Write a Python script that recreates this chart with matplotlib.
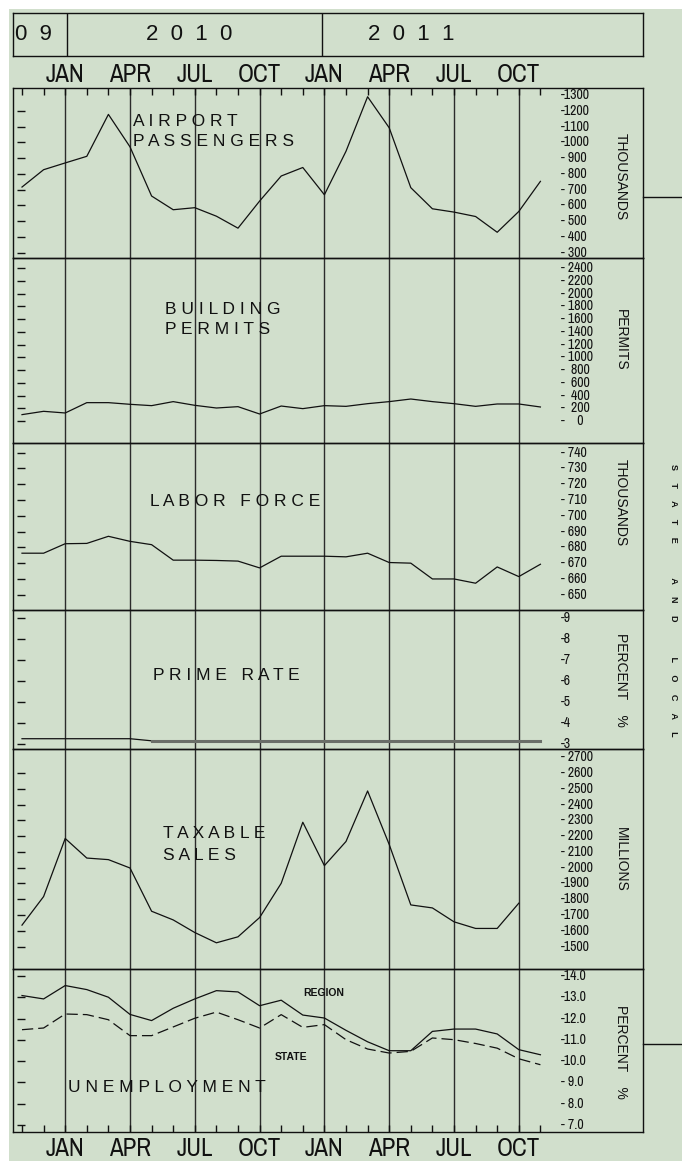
import matplotlib
matplotlib.use("Agg")
import matplotlib.pyplot as plt
import matplotlib.transforms as mtransforms
from matplotlib import font_manager
from matplotlib.patches import Rectangle
from matplotlib.lines import Line2D

W, H = 682, 1161
BG = "#d1dfcc"
INK = "#111111"
GRID = "#2b2b2b"

fonts = font_manager.fontManager.ttflist
names = {f.name for f in fonts}
SANS = "Liberation Sans" if "Liberation Sans" in names else "DejaVu Sans"

# look for a narrow face for the month and scale labels
NARROW, STRETCH = None, "normal"
for f in fonts:
    if f.style != "normal" or f.weight not in (400, "normal", "regular"):
        continue
    if "Narrow" in f.name or "Condensed" in f.name:
        NARROW, STRETCH = f.name, "normal"
        break
    if f.stretch in ("condensed", "semi-condensed", "extra-condensed") and NARROW is None:
        NARROW, STRETCH = f.name, f.stretch
if NARROW is None:
    NARROW = SANS
HAVE_NARROW = NARROW != SANS or STRETCH != "normal"

# month index: 0 = Nov 2009 ... 24 = Nov 2011
months = list(range(25))
quarter_pos = [2, 5, 8, 11, 14, 17, 20, 23]
quarter_names = ["JAN", "APR", "JUL", "OCT", "JAN", "APR", "JUL", "OCT"]
years = ["0  9", "2  0  1  0", "2  0  1  1"]

airport = [716, 826, 869, 911, 1177, 971, 659, 572, 585, 531, 455, 627, 786,
           840, 667, 943, 1289, 1092, 712, 578, 557, 529, 429, 561, 752]
permits = [100, 152, 126, 288, 288, 262, 241, 304, 246, 204, 225, 110, 235,
           194, 241, 230, 272, 304, 345, 304, 272, 230, 267, 267, 220]
labor = [676.3, 676.3, 682.3, 682.5, 687.0, 683.8, 681.7, 671.9, 671.9, 671.7,
         671.3, 667.0, 674.4, 674.4, 674.4, 674.0, 676.3, 670.4, 670.0, 660.0,
         660.0, 657.3, 667.6, 661.5, 669.3]
prime = [3.25, 3.25, 3.25, 3.25, 3.25, 3.25, 3.15, 3.15, 3.15, 3.15, 3.15,
         3.15, 3.15, 3.15, 3.15, 3.15, 3.15, 3.15, 3.15, 3.15, 3.15, 3.15,
         3.15, 3.15, 3.15]
taxable = [1636, 1817, 2185, 2061, 2051, 1998, 1724, 1669, 1589, 1524, 1562,
           1684, 1901, 2288, 2013, 2166, 2486, 2147, 1764, 1745, 1657, 1615,
           1615, 1775]
region = [13.09, 12.93, 13.56, 13.37, 13.01, 12.20, 11.91, 12.49, 12.93, 13.32,
          13.26, 12.61, 12.87, 12.17, 12.03, 11.45, 10.91, 10.49, 10.49, 11.40,
          11.51, 11.51, 11.28, 10.54, 10.30]
state = [11.48, 11.56, 12.22, 12.19, 11.95, 11.20, 11.20, 11.61, 12.02, 12.31,
         11.95, 11.56, 12.19, 11.59, 11.72, 11.01, 10.57, 10.38, 10.46, 11.09,
         11.01, 10.83, 10.61, 10.11, 9.83]

air_ticks = [1300, 1200, 1100, 1000, 900, 800, 700, 600, 500, 400, 300]
air_labels = ["-1300", "-1200", "-1100", "-1000", "- 900", "- 800", "- 700",
              "- 600", "- 500", "- 400", "- 300"]
permit_ticks = [2400, 2200, 2000, 1800, 1600, 1400, 1200, 1000, 800, 600, 400, 200, 0]
permit_labels = ["- 2400", "- 2200", "- 2000", "- 1800", "- 1600", "- 1400",
                 "- 1200", "- 1000", "-  800", "-  600", "-  400", "-  200", "-    0"]
labor_ticks = [740, 730, 720, 710, 700, 690, 680, 670, 660, 650]
labor_labels = ["- 740", "- 730", "- 720", "- 710", "- 700", "- 690", "- 680",
                "- 670", "- 660", "- 650"]
prime_ticks = [9, 8, 7, 6, 5, 4, 3]
prime_labels = ["-9", "-8", "-7", "-6", "-5", "-4", "-3"]
tax_ticks = [2700, 2600, 2500, 2400, 2300, 2200, 2100, 2000, 1900, 1800, 1700, 1600, 1500]
tax_labels = ["- 2700", "- 2600", "- 2500", "- 2400", "- 2300", "- 2200",
              "- 2100", "- 2000", "-1900", "-1800", "-1700", "-1600", "-1500"]
unemp_ticks = [14, 13, 12, 11, 10, 9, 8, 7]
unemp_labels = ["-14.0", "-13.0", "-12.0", "-11.0", "-10.0", "- 9.0", "- 8.0", "- 7.0"]

# layout in pixels
X0, DX = 22.0, 21.6
LEFT, RIGHT = 13, 643
xlim = ((LEFT - X0) / DX, (RIGHT - X0) / DX)
edges = [88, 258, 443, 610, 749, 969, 1132]

scale_font = dict(family=NARROW, fontstretch=STRETCH,
                  fontsize=10 if HAVE_NARROW else 8.5)
month_font = dict(family=NARROW, fontstretch=STRETCH,
                  fontsize=18 if HAVE_NARROW else 14)


def fx(px):
    return px / W


def fy(py):
    return 1 - py / H


fig = plt.figure(figsize=(W / 100, H / 100), dpi=100, facecolor="white")
fig.add_artist(Rectangle((fx(9), 0), 1 - fx(9), fy(9), transform=fig.transFigure,
                         facecolor=BG, edgecolor="none", zorder=-10))

panels = [
    dict(data=[airport], ylim=(265.7, 1344.5), ticks=air_ticks, labels=air_labels,
         marks=air_ticks[1:], unit="THOUSANDS", unit_y=177,
         title=[("A I R P O R T", 133, 121), ("P A S S E N G E R S", 133, 141)]),
    dict(data=[permits], ylim=(-345, 2557), ticks=permit_ticks, labels=permit_labels,
         marks=permit_ticks, unit="PERMITS", unit_y=340,
         title=[("B U I L D I N G", 165, 309), ("P E R M I T S", 165, 330)]),
    dict(data=[labor], ylim=(640.35, 746.05), ticks=labor_ticks, labels=labor_labels,
         marks=labor_ticks, unit="THOUSANDS", unit_y=503,
         title=[("L A B O R   F O R C E", 150, 501)]),
    dict(data=[], ylim=(2.76, 9.38), ticks=prime_ticks, labels=prime_labels,
         marks=prime_ticks, unit="PERCENT    %", unit_y=680,
         title=[("P R I M E   R A T E", 153, 676)]),
    dict(data=[taxable], ylim=(1358, 2752), ticks=tax_ticks, labels=tax_labels,
         marks=tax_ticks[1:], unit="MILLIONS", unit_y=859,
         title=[("T A X A B L E", 163, 834), ("S A L E S", 163, 855)]),
    dict(data=[], ylim=(6.66, 14.34), ticks=unemp_ticks, labels=unemp_labels,
         marks=unemp_ticks, unit="PERCENT    %", unit_y=1052,
         title=[("U N E M P L O Y M E N T", 68, 1088)]),
]

axes = []
for k, p in enumerate(panels):
    top, bot = edges[k], edges[k + 1]
    ax = fig.add_axes([fx(LEFT), fy(bot), fx(RIGHT - LEFT), (bot - top) / H])
    ax.set_facecolor("none")
    ax.set_xlim(*xlim)
    ax.set_ylim(*p["ylim"])
    ax.set_xticks([])
    ax.set_yticks([])
    for s in ax.spines.values():
        s.set_color(INK)
        s.set_linewidth(1.0)
    for q in quarter_pos:
        ax.axvline(q, color=GRID, lw=1.0, zorder=1)
    for series in p["data"]:
        ax.plot(months[:len(series)], series, color=INK, lw=0.9, zorder=3)
    # right-hand scale, drawn inside the frame
    tr = mtransforms.blended_transform_factory(fig.transFigure, ax.transData)
    for v, lab in zip(p["ticks"], p["labels"]):
        ax.text(fx(561), v, lab, transform=tr, ha="left", va="center",
                color=INK, **scale_font)
    # short marks along the left edge
    ax.plot([fx(21)] * len(p["marks"]), p["marks"], transform=tr, linestyle="none",
            marker="_", markersize=6, markeredgewidth=1.0, color=INK, clip_on=False)
    fig.text(fx(621), fy(p["unit_y"]), p["unit"], rotation=-90, ha="center",
             va="center", fontsize=10, family=SANS, color=INK)
    for txt, tx, ty in p["title"]:
        fig.text(fx(tx), fy(ty), txt, ha="left", va="center", fontsize=12.5,
                 family=SANS, color=INK)
    axes.append(ax)

# prime rate: thin segment, then heavier grey line
ax_prime = axes[3]
ax_prime.plot(months[:7], prime[:7], color=INK, lw=0.9, zorder=3)
ax_prime.plot(months[6:], prime[6:], color="#6a6e68", lw=2.2, zorder=3)

# unemployment: region solid, state dashed
ax_un = axes[5]
ax_un.plot(months, region, color=INK, lw=0.9, zorder=3)
ax_un.plot(months, state, color=INK, lw=0.9, dashes=(9, 4), zorder=3)
fig.text(fx(324), fy(993), "REGION", ha="center", va="center", fontsize=7.5,
         fontweight="bold", family=SANS, color=INK)
fig.text(fx(291), fy(1057), "STATE", ha="center", va="center", fontsize=7.5,
         fontweight="bold", family=SANS, color=INK)

# monthly ticks on top and bottom edges
ax_top, ax_bot = axes[0], axes[-1]
ax_top.set_xticks(months)
ax_top.tick_params(axis="x", top=True, bottom=False, labeltop=False,
                   labelbottom=False, direction="in", length=5, width=1, color=INK)
ax_bot.set_xticks(months)
ax_bot.tick_params(axis="x", top=False, bottom=True, labelbottom=False,
                   direction="in", length=5, width=1, color=INK)

tr_top = mtransforms.blended_transform_factory(ax_top.transData, fig.transFigure)
for q, name in zip(quarter_pos, quarter_names):
    for yy in [75, 1149]:
        fig.text(q, fy(yy), name, transform=tr_top, ha="center", va="center",
                 color=INK, **month_font)

# year header box
hdr = fig.add_axes([fx(LEFT), fy(56), fx(RIGHT - LEFT), (56 - 13) / H])
hdr.set_facecolor("none")
hdr.set_xlim(*xlim)
hdr.set_ylim(0, 1)
hdr.set_xticks([])
hdr.set_yticks([])
for s in hdr.spines.values():
    s.set_color(INK)
    s.set_linewidth(1.0)
for xe in [2.1, 13.9]:
    hdr.axvline(xe, color=INK, lw=1.0)
for txt, xi in zip(years, [-0.32, 5.74, 16.0]):
    hdr.text(xi, 0.5, txt, ha="left", va="center", fontsize=16, family=SANS, color=INK)

# side strip beyond the frame (only the edge of its lettering shows)
for yy in [197, 1044]:
    fig.add_artist(Line2D([fx(RIGHT), 1], [fy(yy), fy(yy)], transform=fig.transFigure,
                          color=INK, lw=1.0))
fig.text(fx(669), fy(600),
         "S     T     A     T     E              A     N     D              L     O     C     A     L",
         rotation=-90, ha="left", va="center", fontsize=6.5, fontweight="bold",
         family=SANS, color=INK)

fig.savefig("out.png", dpi=100, facecolor=fig.get_facecolor())
